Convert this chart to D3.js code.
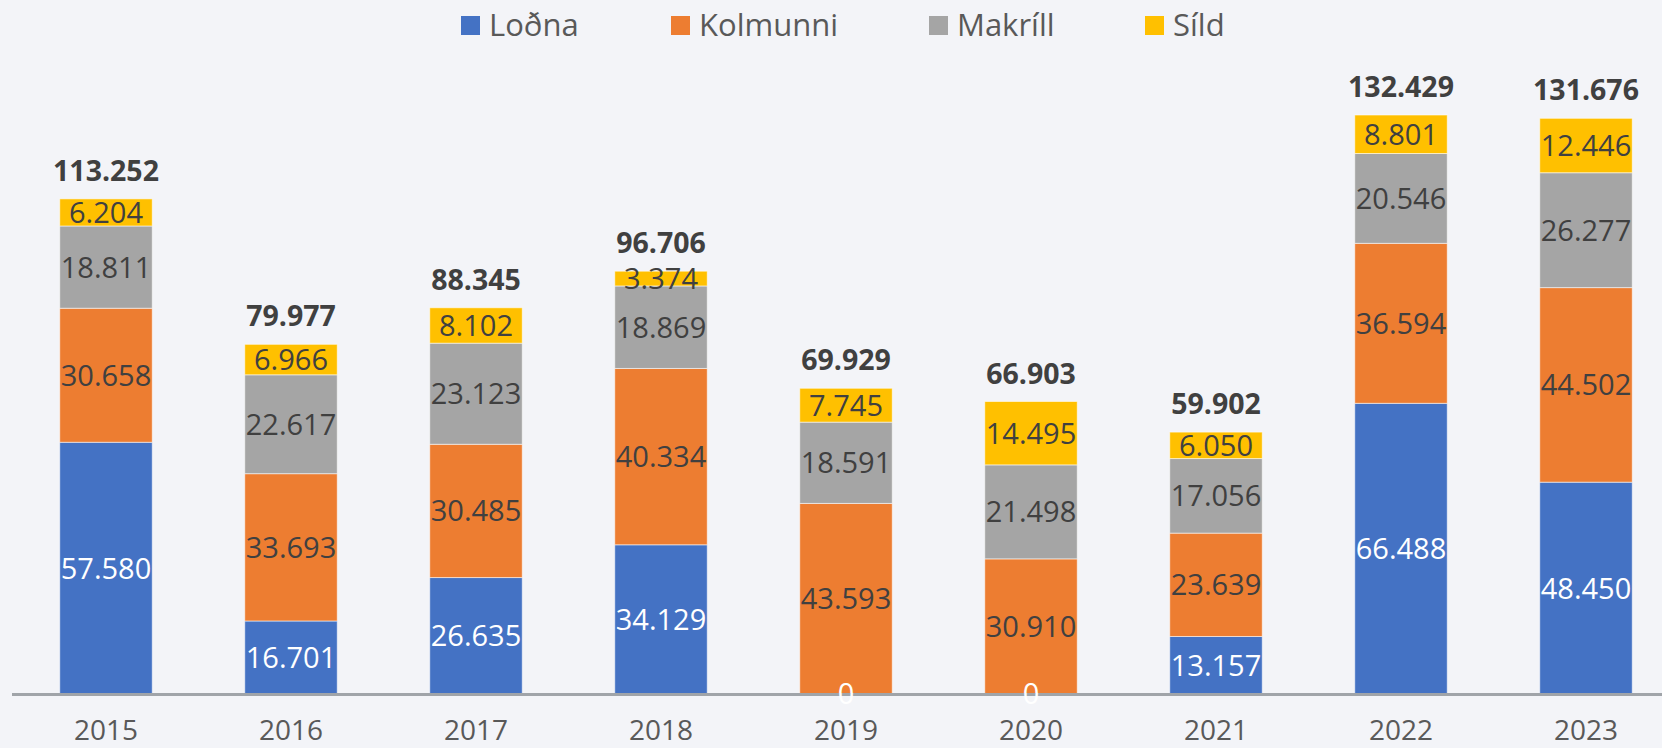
<!DOCTYPE html>
<html>
<head>
<meta charset="utf-8">
<script src="https://cdn.jsdelivr.net/npm/d3@7"></script>
<style>
    html, body { margin: 0; padding: 0; background: #f3f4f8; overflow: hidden; }
    #chart { width: 1662px; height: 748px; }
    text { font-family: 'Open Sans', sans-serif; }
</style>
</head>
<body>
<div id="chart"></div>
<script>
// GÖGN (tonn, lesin af myndinni)
const years = ["2015", "2016", "2017", "2018", "2019", "2020", "2021", "2022", "2023"];
const lodna = [57580, 16701, 26635, 34129, 0, 0, 13157, 66488, 48450];
const kolmunni = [30658, 33693, 30485, 40334, 43593, 30910, 23639, 36594, 44502];
const makrill = [18811, 22617, 23123, 18869, 18591, 21498, 17056, 20546, 26277];
const sild = [6204, 6966, 8102, 3374, 7745, 14495, 6050, 8801, 12446];
const totals = [113252, 79977, 88345, 96706, 69929, 66903, 59902, 132429, 131676];

const seriesNames = ["Loðna", "Kolmunni", "Makríll", "Síld"];
const seriesValues = [lodna, kolmunni, makrill, sild];
const colors = ["#4472c4", "#ed7d31", "#a5a5a5", "#ffc000"];
const labelColors = ["#ffffff", "#404040", "#404040", "#404040"];

const width = 1662, height = 748;
const baseY = 694;

const fmt = d3.formatLocale({ decimal: ",", thousands: ".", grouping: [3], currency: ["", " kr."] }).format(",d");

// töflu fyrir d3.stack
const table = years.map((y, i) => {
    const row = { year: y, total: totals[i] };
    seriesNames.forEach((s, k) => { row[s] = seriesValues[k][i]; });
    return row;
});

const svg = d3.select("#chart").append("svg")
    .attr("width", width).attr("height", height);

svg.append("rect").attr("width", width).attr("height", height).attr("fill", "#f3f4f8");

const x = d3.scaleBand().domain(years).range([13.5, 1678.5]).paddingInner(0.5).paddingOuter(0.25);
const y = d3.scaleLinear().domain([0, 150000]).range([baseY, baseY - 150 * 4.372]);

const stacked = d3.stack().keys(seriesNames)(table);

const layers = svg.append("g").selectAll("g.layer").data(stacked).join("g")
    .attr("class", "layer")
    .attr("fill", (d, k) => colors[k]);

layers.selectAll("rect").data(d => d).join("rect")
    .attr("x", d => x(d.data.year))
    .attr("width", x.bandwidth())
    .attr("y", d => y(d[1]))
    .attr("height", d => y(d[0]) - y(d[1]))
    .attr("stroke", "#ffffff").attr("stroke-opacity", 0.55).attr("stroke-width", 1);

// x-ás
svg.append("line")
    .attr("x1", 12).attr("x2", width)
    .attr("y1", baseY + 0.5).attr("y2", baseY + 0.5)
    .attr("stroke", "#a0a4a9").attr("stroke-width", 3);

svg.append("g").selectAll("text").data(years).join("text")
    .attr("x", d => x(d) + x.bandwidth() / 2)
    .attr("y", 740)
    .attr("text-anchor", "middle")
    .style("font-size", "28px").style("fill", "#595959")
    .text(d => d);

// gildi í hverjum hluta
stacked.forEach((layer, k) => {
    svg.append("g").selectAll("text").data(layer).join("text")
        .attr("x", d => x(d.data.year) + x.bandwidth() / 2)
        .attr("y", d => (y(d[0]) + y(d[1])) / 2)
        .attr("dy", "0.36em")
        .attr("text-anchor", "middle")
        .style("font-size", "29px").style("fill", labelColors[k])
        .text(d => fmt(d[1] - d[0]));
});

// heildartölur
svg.append("g").selectAll("text").data(table).join("text")
    .attr("x", d => x(d.year) + x.bandwidth() / 2)
    .attr("y", d => y(d.total) - 18)
    .attr("text-anchor", "middle")
    .style("font-size", "28.5px").style("font-weight", "700").style("fill", "#404040")
    .text(d => fmt(d.total));

// skýringar
const legendX = [461, 671, 929, 1145];
const legend = svg.append("g").selectAll("g").data(seriesNames).join("g")
    .attr("transform", (d, k) => `translate(${legendX[k]},16)`);
legend.append("rect").attr("width", 19).attr("height", 19).attr("fill", (d, k) => colors[k]);
legend.append("text")
    .attr("x", 28).attr("y", 20)
    .style("font-size", "31px").style("fill", "#595959")
    .text(d => d);
</script>
</body>
</html>
